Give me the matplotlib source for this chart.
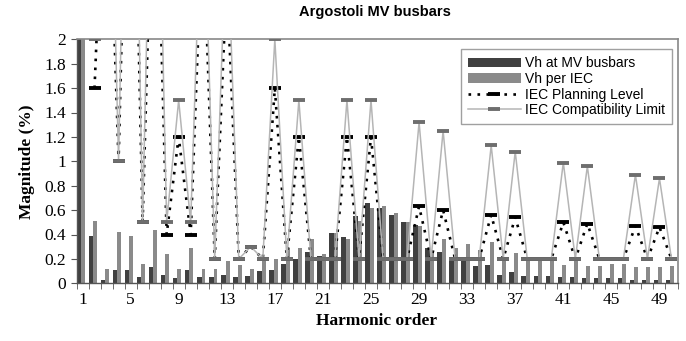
import numpy as np
import matplotlib
matplotlib.use("Agg")
import matplotlib.pyplot as plt
from matplotlib.ticker import FuncFormatter, FixedLocator

harmonics = list(range(1, 51))

vh_mv = [100, 0.39, 0.03, 0.11, 0.11, 0.05, 0.13, 0.07, 0.04, 0.11,
         0.05, 0.05, 0.07, 0.055, 0.06, 0.10, 0.11, 0.16, 0.20, 0.26,
         0.22, 0.415, 0.38, 0.55, 0.655, 0.62, 0.56, 0.50, 0.48, 0.29,
         0.26, 0.19, 0.19, 0.14, 0.15, 0.068, 0.095, 0.06, 0.06, 0.06,
         0.05, 0.05, 0.045, 0.04, 0.04, 0.04, 0.03, 0.03, 0.03, 0.03]

vh_iec = [100, 0.51, 0.115, 0.42, 0.39, 0.16, 0.44, 0.24, 0.12, 0.29,
          0.12, 0.12, 0.18, 0.15, 0.12, 0.20, 0.20, 0.29, 0.29, 0.36,
          0.24, 0.41, 0.36, 0.51, 0.615, 0.63, 0.58, 0.50, 0.47, 0.26,
          0.36, 0.29, 0.32, 0.27, 0.34, 0.19, 0.25, 0.19, 0.19, 0.19,
          0.15, 0.18, 0.14, 0.14, 0.16, 0.16, 0.13, 0.13, 0.13, 0.14]

planning = [np.nan, 1.6, 4, 1, 5, 0.5, 4, 0.4, 1.2, 0.4,
            3, 0.2, 2.5, 0.2, 0.3, 0.2, 1.6, 0.2, 1.2, 0.2,
            0.2, 0.2, 1.2, 0.2, 1.2, 0.2, 0.2, 0.2, 0.63, 0.2,
            0.6, 0.2, 0.2, 0.2, 0.56, 0.2, 0.54, 0.2, 0.2, 0.2,
            0.5, 0.2, 0.49, 0.2, 0.2, 0.2, 0.47, 0.2, 0.46, 0.2]

compat = [np.nan, 2, 5, 1, 6, 0.5, 5, 0.5, 1.5, 0.5,
          3.5, 0.2, 3, 0.2, 0.3, 0.2, 2, 0.2, 1.5, 0.2,
          0.2, 0.2, 1.5, 0.2, 1.5, 0.2, 0.2, 0.2, 1.32, 0.2,
          1.25, 0.2, 0.2, 0.2, 1.13, 0.2, 1.08, 0.2, 0.2, 0.2,
          0.99, 0.2, 0.96, 0.2, 0.2, 0.2, 0.89, 0.2, 0.86, 0.2]

x_tick_labels = [1, 5, 9, 13, 17, 21, 25, 29, 33, 37, 41, 45, 49]

serif = ["Liberation Serif", "DejaVu Serif"]
sans = ["Liberation Sans", "DejaVu Sans"]

fig = plt.figure(figsize=(6.86, 3.41), dpi=100)
ax = fig.add_axes([76.5 / 686, 1 - 283.3 / 341, 601 / 686, 244 / 341])

h = np.array(harmonics, dtype=float)
b1 = ax.bar(h - 0.48, vh_mv, width=0.38, align="edge", color="#404040",
            label="Vh at MV busbars", zorder=2)
b2 = ax.bar(h - 0.10, vh_iec, width=0.33, align="edge", color="#8a8a8a",
            label="Vh per IEC", zorder=2)

l1, = ax.plot(h, planning, linestyle=(0, (1, 2.4)), color="black", linewidth=1.9,
              marker="_", markersize=8, markeredgewidth=2.8, markeredgecolor="black",
              label="IEC Planning Level", zorder=3)
l2, = ax.plot(h, compat, linestyle="-", color="#b5b5b5", linewidth=1.1,
              marker="_", markersize=8, markeredgewidth=2.8, markeredgecolor="#6e6e6e",
              label="IEC Compatibility Limit", zorder=4)

ax.set_xlim(0.5, 50.5)
ax.set_ylim(0, 2)
ax.set_yticks(np.arange(0, 2.01, 0.2))
ax.yaxis.set_major_formatter(FuncFormatter(lambda v, p: "%g" % round(v, 1)))
ax.xaxis.set_major_locator(FixedLocator(x_tick_labels))
ax.xaxis.set_minor_locator(FixedLocator(np.arange(0.5, 51, 1)))
ax.tick_params(axis="x", which="major", length=0, pad=6)
ax.tick_params(axis="x", which="minor", length=4, direction="out", color="#555555")
ax.tick_params(axis="y", which="major", length=4, direction="out", color="#555555")
for lab in ax.get_xticklabels() + ax.get_yticklabels():
    lab.set_family(serif)
    lab.set_fontsize(12.5)

for s in ["top", "right"]:
    ax.spines[s].set_color("#888888")
    ax.spines[s].set_linewidth(1.2)
for s in ["left", "bottom"]:
    ax.spines[s].set_color("#555555")
    ax.spines[s].set_linewidth(1.0)

ax.set_ylabel("Magnitude (%)", family=serif, fontweight="bold", fontsize=12.5, labelpad=7)
ax.set_xlabel("Harmonic order", family=serif, fontweight="bold", fontsize=12.5, labelpad=4)
fig.text(0.547, 0.965, "Argostoli MV busbars", family=sans, fontweight="bold",
         fontsize=10.5, ha="center", va="center")

leg = ax.legend(handles=[b1, b2, l1, l2], loc="upper right", bbox_to_anchor=(0.995, 0.97),
                prop={"family": sans, "size": 10},
                frameon=True, fancybox=False, handlelength=3.8, labelspacing=0.12,
                handletextpad=0.3, borderpad=0.5, borderaxespad=0.2)
leg.get_frame().set_edgecolor("#888888")
leg.get_frame().set_linewidth(1.0)

fig.savefig("out.png", dpi=100)
